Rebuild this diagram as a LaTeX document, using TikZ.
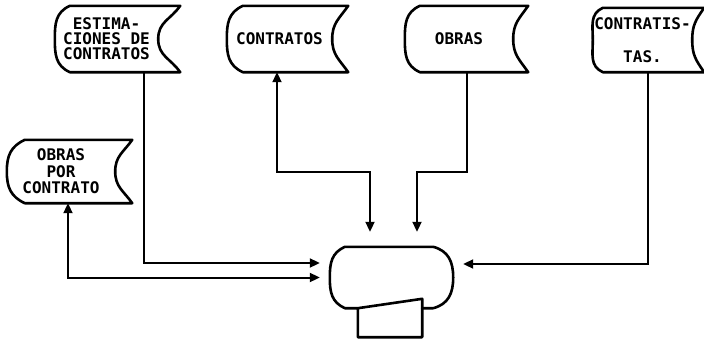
\documentclass[tikz,border=0pt]{standalone}
\usepackage{fontspec}
\setmonofont{DejaVu Sans Mono}
\usetikzlibrary{calc,arrows.meta}
\tikzset{
  store/.style={draw=none, inner sep=0pt, align=center, font=\ttfamily\bfseries\fontsize{16}{15}\selectfont},
  outl/.style={line width=2.6pt, line join=round, line cap=round},
  conn/.style={line width=2pt, line join=miter},
  tip/.style={-{Triangle[length=10pt,width=9pt]}},
  bitip/.style={{Triangle[length=10pt,width=9pt]}-{Triangle[length=10pt,width=9pt]}}
}
\newcommand\storeout[3]{%
  \draw[outl] ($(#1.north west)+(#2,0)$) -- ($(#1.north east)+(#3,0)$)
    to[out=-125,in=90,looseness=1.1] (#1.east) to[out=-90,in=125,looseness=1.1] ($(#1.south east)+(#3,0)$)
    -- ($(#1.south west)+(#2,0)$) to[out=155,in=-90,looseness=1.1] (#1.west)
    to[out=90,in=-155,looseness=1.1] ($(#1.north west)+(#2,0)$);}
\begin{document}
\begin{tikzpicture}[x=1pt,y=1pt]
\useasboundingbox (0,0) rectangle (704,-340);
% storage nodes
\node[store, minimum width=103, minimum height=66] (est) at (106.5,-39) {ESTIMA-\\CIONES DE\\CONTRATOS};
\node[store, minimum width=105, minimum height=66] (con) at (279.5,-39) {CONTRATOS};
\node[store, minimum width=108, minimum height=66] (obr) at (459,-39) {OBRAS};
\node[store, minimum width=99, minimum height=64] (cts) at (642.5,-40) {CONTRATIS-\\[18pt]TAS.};
\node[store, minimum width=108, minimum height=63, font=\ttfamily\bfseries\fontsize{16}{16.5}\selectfont] (obc) at (61,-171.5) {OBRAS\\POR\\CONTRATO};
\storeout{est}{15}{22}
\storeout{con}{16}{16}
\storeout{obr}{15}{15}
\storeout{cts}{10}{12}
\storeout{obc}{18}{17}
% display and manual input
\node[draw=none, minimum width=123, minimum height=61, inner sep=0pt] (disp) at (391.5,-277.5) {};
\node[draw=none, minimum width=64, minimum height=38, inner sep=0pt] (inp) at (390,-318) {};
\draw[outl] ($(inp.south west)+(-13,29)$) -- ($(inp.south west)+(0,29)$) -- (inp.north east) -- (inp.south east) -- (inp.south west) -- ($(inp.south west)+(0,29)$);
\draw[outl] ($(inp.south east)+(0,29)$) -- ($(disp.south east)+(-20,0)$)
  to[out=15,in=-90,looseness=1.1] (disp.east) to[out=90,in=-15,looseness=1.1] ($(disp.north east)+(-20,0)$)
  -- ($(disp.north west)+(15,0)$) to[out=-155,in=90,looseness=1.1] (disp.west)
  to[out=-90,in=155,looseness=1.1] ($(disp.south west)+(15,0)$);
% connectors
\draw[conn,tip] ($(est.south)+(37.5,0)$) |- ($(disp.west)+(-10,14.5)$);
\draw[conn,bitip] ($(obc.south)+(7,0)$) |- ($(disp.west)+(-10,0)$);
\draw[conn,bitip] ($(con.south)+(-2.5,0)$) -- ++(0,-100) -| ($(disp.north)+(-21.5,15)$);
\draw[conn,tip] ($(obr.south)+(8,0)$) -- ++(0,-100) -| ($(disp.north)+(25.5,15)$);
\draw[conn,tip] ($(cts.south)+(5.5,0)$) |- ($(disp.east)+(10,13.5)$);
\end{tikzpicture}
\end{document}
